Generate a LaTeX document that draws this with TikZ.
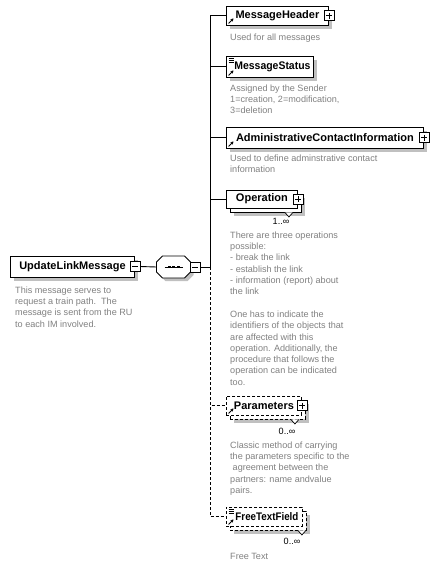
\documentclass[tikz,border=0pt]{standalone}
\usepackage{fontspec}
\setmainfont{Liberation Sans}
\usetikzlibrary{shadows,arrows.meta}
\definecolor{descgray}{RGB}{128,128,128}
\definecolor{shgray}{RGB}{192,192,192}
\newcommand{\refmark}[1]{\draw[line width=0.8pt,-{Stealth[length=3pt,width=3.4pt]}] ([shift={(2.5,-2)}]#1.south west) -- ([shift={(7.5,-7)}]#1.south west);}
\newcommand{\simplemark}[1]{\foreach \dy in {2.5,4.5,6.5}{\draw[line width=0.7pt] ([shift={(2.5,\dy)}]#1.north west) -- ++(5,0);}}
\newcommand{\notchmark}[2]{\draw[fill=white,line width=0.7pt] ([shift={(#2-4,4)}]#1.south east) -- ++(4,4.5) -- ++(4,-4.5);}
\begin{document}
\begin{tikzpicture}[x=1pt,y=-1pt,
  conn/.style={line width=0.9pt},
  opt/.style={dash pattern=on 3pt off 2pt},
  el/.style={draw, fill=white, line width=0.9pt, inner sep=0pt, anchor=west,
    font=\fontsize{11}{13}\selectfont\bfseries,
    drop shadow={shadow xshift=4pt, shadow yshift=-4pt, fill=shgray, draw=none, opacity=1}},
  stk/.style={draw, fill=white, line width=0.9pt, inner sep=0pt, anchor=west,
    font=\fontsize{11}{13}\selectfont\bfseries,
    general shadow={shadow xshift=8pt, shadow yshift=-8pt, fill=shgray, draw=none, opacity=1},
    general shadow={shadow xshift=4pt, shadow yshift=-4pt, fill=white, draw=black, opacity=1}},
  pbox/.style={draw, fill=white, line width=0.7pt, minimum size=10pt, inner sep=0pt,
    path picture={\draw[line width=0.7pt] ([xshift=2pt]path picture bounding box.west) -- ([xshift=-2pt]path picture bounding box.east);
      \draw[line width=0.7pt] ([yshift=-2pt]path picture bounding box.north) -- ([yshift=2pt]path picture bounding box.south);}},
  mbox/.style={draw, fill=white, line width=0.7pt, minimum size=10pt, inner sep=0pt,
    path picture={\draw[line width=0.7pt] ([xshift=2pt]path picture bounding box.west) -- ([xshift=-2pt]path picture bounding box.east);}},
  desc/.style={anchor=north west, inner sep=0pt, align=left, text=descgray, font=\fontsize{9.1}{11.3}\selectfont},
  mult/.style={inner sep=0pt, font=\fontsize{9.1}{11}\selectfont}
]
\useasboundingbox (0,0) rectangle (438,566);

% root element
\node[el, minimum width=124pt, minimum height=21pt] (ulm) at (10,266.5) {UpdateLinkMessage};
\node[mbox] (ulmm) at (ulm.east) {};
\node[desc] (ulmd) at (15,286.5) {This message serves to\\request a train path.\ \ The\\message is sent from the RU\\to each IM involved.};

% sequence compositor
\node[inner sep=0pt, minimum width=34pt, minimum height=22pt] (seq) at (173.5,267) {};
\begin{scope}[shift={(seq.center)}]
  \fill[shgray] (-8,-8) -- (14,-8) -- (20,-2) -- (20,8) -- (14,14) -- (-8,14) -- (-14,8) -- (-14,-2) -- cycle;
  \draw[fill=white, line width=0.9pt] (-11,-11) -- (11,-11) -- (17,-5) -- (17,5) -- (11,11) -- (-11,11) -- (-17,5) -- (-17,-5) -- cycle;
  \draw[line width=0.9pt] (-9,0) -- (9,0);
  \foreach \sx in {-4.5,0,4.5} \fill (\sx-1.5,-1.3) rectangle (\sx+1.5,1.3);
\end{scope}
\node[mbox] (seqm) at ([xshift=4.5pt]seq.east) {};
\coordinate (vj) at (210,267);

% children
\node[el, minimum width=102pt, minimum height=19pt] (mh) at (226,15.5) {MessageHeader};
\node[pbox] (mhp) at (mh.east) {};
\refmark{mh}
\node[desc] (mhd) at (230,33.5) {Used for all messages};

\node[el, minimum width=87pt, minimum height=21pt] (ms) at (226,66.5) {\hspace{5pt}\scalebox{0.95}[1]{MessageStatus}};
\simplemark{ms}
\refmark{ms}
\node[desc] (msd) at (230,84.5) {Assigned by the Sender\\1=creation, 2=modification,\\3=deletion};

\node[el, minimum width=197pt, minimum height=21pt] (aci) at (226,137.5) {AdministrativeContactInformation};
\node[pbox] (acip) at (aci.east) {};
\refmark{aci}
\node[desc] (acid) at (230,154.5) {Used to define adminstrative contact\\information};

\node[stk, minimum width=71pt, minimum height=18pt] (op) at (226,199) {Operation};
\node[pbox] (opp) at (op.east) {};
\notchmark{op}{-9}
\node[mult] (opm) at (281,221.5) {1..∞};
\node[desc] (opd) at (230,231.5) {There are three operations\\possible:\\- break the link\\- establish the link\\- information (report) about\\the link\\[11.3pt]One has to indicate the\\identifiers of the objects that\\are affected with this\\operation. Additionally, the\\procedure that follows the\\operation can be indicated\\too.};

\node[stk, opt, minimum width=75pt, minimum height=19pt] (par) at (226,405.5) {Parameters};
\node[pbox] (parp) at (par.east) {};
\refmark{par}
\notchmark{par}{-7}
\node[mult] (parm) at (287,431) {0..∞};
\node[desc] (pard) at (230,441.5) {Classic method of carrying\\the parameters specific to the\\\ agreement between the\\partners: name andvalue\\pairs.};

\node[stk, opt, minimum width=76pt, minimum height=19pt] (ftf) at (226,516.5) {\hspace{5pt}\scalebox{0.89}[1]{FreeTextField}};
\simplemark{ftf}
\refmark{ftf}
\notchmark{ftf}{-1}
\node[mult] (ftfm) at (292,541) {0..∞};
\node[desc] (ftfd) at (230,553.5) {Free Text};

% connectors
\draw[conn] (ulmm.east) -- (seq.west);
\draw[conn] (seqm.east) -- (vj);
\draw[conn] (vj) |- (mh.west);
\draw[conn] (vj) |- (ms.west);
\draw[conn] (vj) |- (aci.west);
\draw[conn] (vj) |- (op.west);
\draw[conn, opt] (vj) |- (par.west);
\draw[conn, opt] (vj) |- (ftf.west);
\end{tikzpicture}
\end{document}
